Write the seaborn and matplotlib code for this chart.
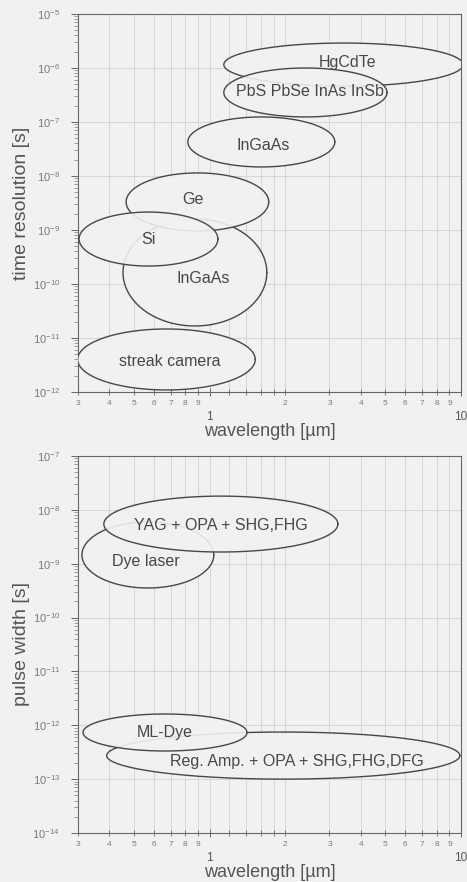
import numpy as np
import matplotlib
matplotlib.use("Agg")
import matplotlib.pyplot as plt
from matplotlib.ticker import FixedLocator, FuncFormatter, LogFormatterSciNotation, NullFormatter
import seaborn as sns

# Detector regions: wavelength span [um] and time-resolution span [s]
det_names = ["InGaAs", "Ge", "Si", "streak camera", "InGaAs", "HgCdTe", "PbS PbSe InAs InSb"]
det_wl_lo = [0.453, 0.466, 0.303, 0.299, 0.82, 1.14, 1.14]
det_wl_hi = [1.69, 1.72, 1.08, 1.52, 3.15, 10.2, 5.08]
det_t_lo = [1.67e-11, 9.6e-10, 2.15e-10, 1.09e-12, 1.47e-8, 4.6e-7, 1.24e-7]
det_t_hi = [1.6e-9, 1.14e-8, 2.15e-9, 1.47e-11, 1.24e-7, 2.9e-6, 1.0e-6]
det_lab_wl = [0.94, 0.86, 0.574, 0.697, 1.63, 3.55, 2.51]
det_lab_t = [1.29e-10, 3.6e-9, 6.8e-10, 3.75e-12, 3.75e-8, 1.29e-6, 3.6e-7]

# Laser sources: wavelength span [um] and pulse-width span [s]
src_names = ["Dye laser", "YAG + OPA + SHG,FHG", "Reg. Amp. + OPA + SHG,FHG,DFG", "ML-Dye"]
src_wl_lo = [0.311, 0.38, 0.39, 0.314]
src_wl_hi = [1.04, 3.24, 9.9, 1.41]
src_t_lo = [3.54e-10, 1.65e-9, 1.0e-13, 3.33e-13]
src_t_hi = [5.96e-9, 1.8e-8, 7.5e-13, 1.62e-12]
src_lab_wl = [0.559, 1.106, 2.23, 0.665]
src_lab_t = [1.08e-9, 5.2e-9, 2.17e-13, 7.5e-13]

# Axis ticks
x_major = [1, 10]
x_minor = [0.3, 0.4, 0.5, 0.6, 0.7, 0.8, 0.9, 1.2, 1.4, 1.6, 1.8, 2, 3, 4, 5, 6, 7, 8, 9]
x_minor_labelled = [0.3, 0.4, 0.5, 0.6, 0.7, 0.8, 0.9, 2, 3, 4, 5, 6, 7, 8, 9]
top_decades = [1e-12, 1e-11, 1e-10, 1e-9, 1e-8, 1e-7, 1e-6, 1e-5]
bottom_decades = [1e-14, 1e-13, 1e-12, 1e-11, 1e-10, 1e-9, 1e-8, 1e-7]

BG = "#f1f1f1"
INK = "#474747"
TICK = "#7a7a7a"

sns.set_theme(style="ticks")
plt.rcParams["font.family"] = ["Liberation Sans", "DejaVu Sans"]
plt.rcParams["mathtext.fontset"] = "custom"
plt.rcParams["mathtext.rm"] = "Liberation Sans"
plt.rcParams["mathtext.it"] = "Liberation Sans"

fig = plt.figure(figsize=(4.67, 8.82), dpi=100, facecolor=BG)
ax1 = fig.add_axes([78 / 467, 1 - 392 / 882, 383 / 467, 378 / 882])
ax2 = fig.add_axes([78 / 467, 1 - 833 / 882, 383 / 467, 377 / 882])

theta = np.linspace(0, 2 * np.pi, 240)


def draw_regions(ax, names, wl_lo, wl_hi, t_lo, t_hi, lab_wl, lab_t):
    for i, name in enumerate(names):
        cx = (np.log10(wl_lo[i]) + np.log10(wl_hi[i])) / 2
        rx = (np.log10(wl_hi[i]) - np.log10(wl_lo[i])) / 2
        cy = (np.log10(t_lo[i]) + np.log10(t_hi[i])) / 2
        ry = (np.log10(t_hi[i]) - np.log10(t_lo[i])) / 2
        xs = 10 ** (cx + rx * np.cos(theta))
        ys = 10 ** (cy + ry * np.sin(theta))
        z = 3 + i * 0.1
        ax.fill(xs, ys, color=BG, alpha=0.9, zorder=z, lw=0)
        sns.lineplot(x=xs, y=ys, sort=False, estimator=None, ax=ax,
                     color=INK, lw=1.0, zorder=z + 0.05)
        ax.text(lab_wl[i], lab_t[i], name, ha="center", va="center",
                fontsize=11.5, color=INK, zorder=10)


def minor_label(v, pos):
    if not any(abs(v - m) < 1e-9 for m in x_minor_labelled):
        return ""
    return f"{int(round(v * 10)) if v < 1 else int(round(v))}"


def style_axes(ax, decades, ylabel):
    ax.set_facecolor(BG)
    ax.set_xscale("log")
    ax.set_yscale("log")
    ax.set_xlim(0.3, 10)
    ax.set_ylim(decades[0], decades[-1])
    ax.xaxis.set_major_locator(FixedLocator(x_major))
    ax.xaxis.set_major_formatter(FuncFormatter(lambda v, p: f"{v:g}"))
    ax.xaxis.set_minor_locator(FixedLocator(x_minor))
    ax.xaxis.set_minor_formatter(FuncFormatter(minor_label))
    ax.tick_params(axis="x", which="major", direction="inout", length=6, width=0.7,
                   color="#666666", labelsize=8.5, labelcolor="#555555", pad=11)
    ax.tick_params(axis="x", which="minor", direction="inout", length=4, width=0.6,
                   color="#666666", labelsize=6, labelcolor=TICK, pad=3.5)
    ax.yaxis.set_major_locator(FixedLocator(decades))
    ax.yaxis.set_major_formatter(LogFormatterSciNotation())
    minor_y = [d * k for d in decades[:-1] for k in range(2, 10)]
    ax.yaxis.set_minor_locator(FixedLocator(minor_y))
    ax.yaxis.set_minor_formatter(NullFormatter())
    ax.tick_params(axis="y", which="major", direction="out", length=5, width=0.7,
                   color="#666666", labelsize=8, labelcolor=TICK, pad=8)
    ax.tick_params(axis="y", which="minor", direction="out", length=3, width=0.5,
                   color="#777777")
    # light grid: every x tick, y decades
    ax.grid(True, which="both", axis="x", color="#d6d6d6", lw=0.7, zorder=0)
    ax.grid(True, which="major", axis="y", color="#d6d6d6", lw=0.7, zorder=0)
    ax.set_axisbelow(True)
    for s in ax.spines.values():
        s.set_visible(True)
        s.set_color("#666666")
        s.set_linewidth(0.8)
    ax.set_xlabel("wavelength [\u00b5m]", fontsize=13, color="#555555", labelpad=0)
    ax.set_ylabel(ylabel, fontsize=14, color="#555555")
    ax.yaxis.set_label_coords(-0.125, 0.5)


style_axes(ax1, top_decades, "time resolution [s]")
style_axes(ax2, bottom_decades, "pulse width [s]")

draw_regions(ax1, det_names, det_wl_lo, det_wl_hi, det_t_lo, det_t_hi, det_lab_wl, det_lab_t)
draw_regions(ax2, src_names, src_wl_lo, src_wl_hi, src_t_lo, src_t_hi, src_lab_wl, src_lab_t)

for ax, d in ((ax1, top_decades), (ax2, bottom_decades)):
    ax.set_xlim(0.3, 10)
    ax.set_ylim(d[0], d[-1])

fig.savefig("out.png", dpi=100, facecolor=BG)
